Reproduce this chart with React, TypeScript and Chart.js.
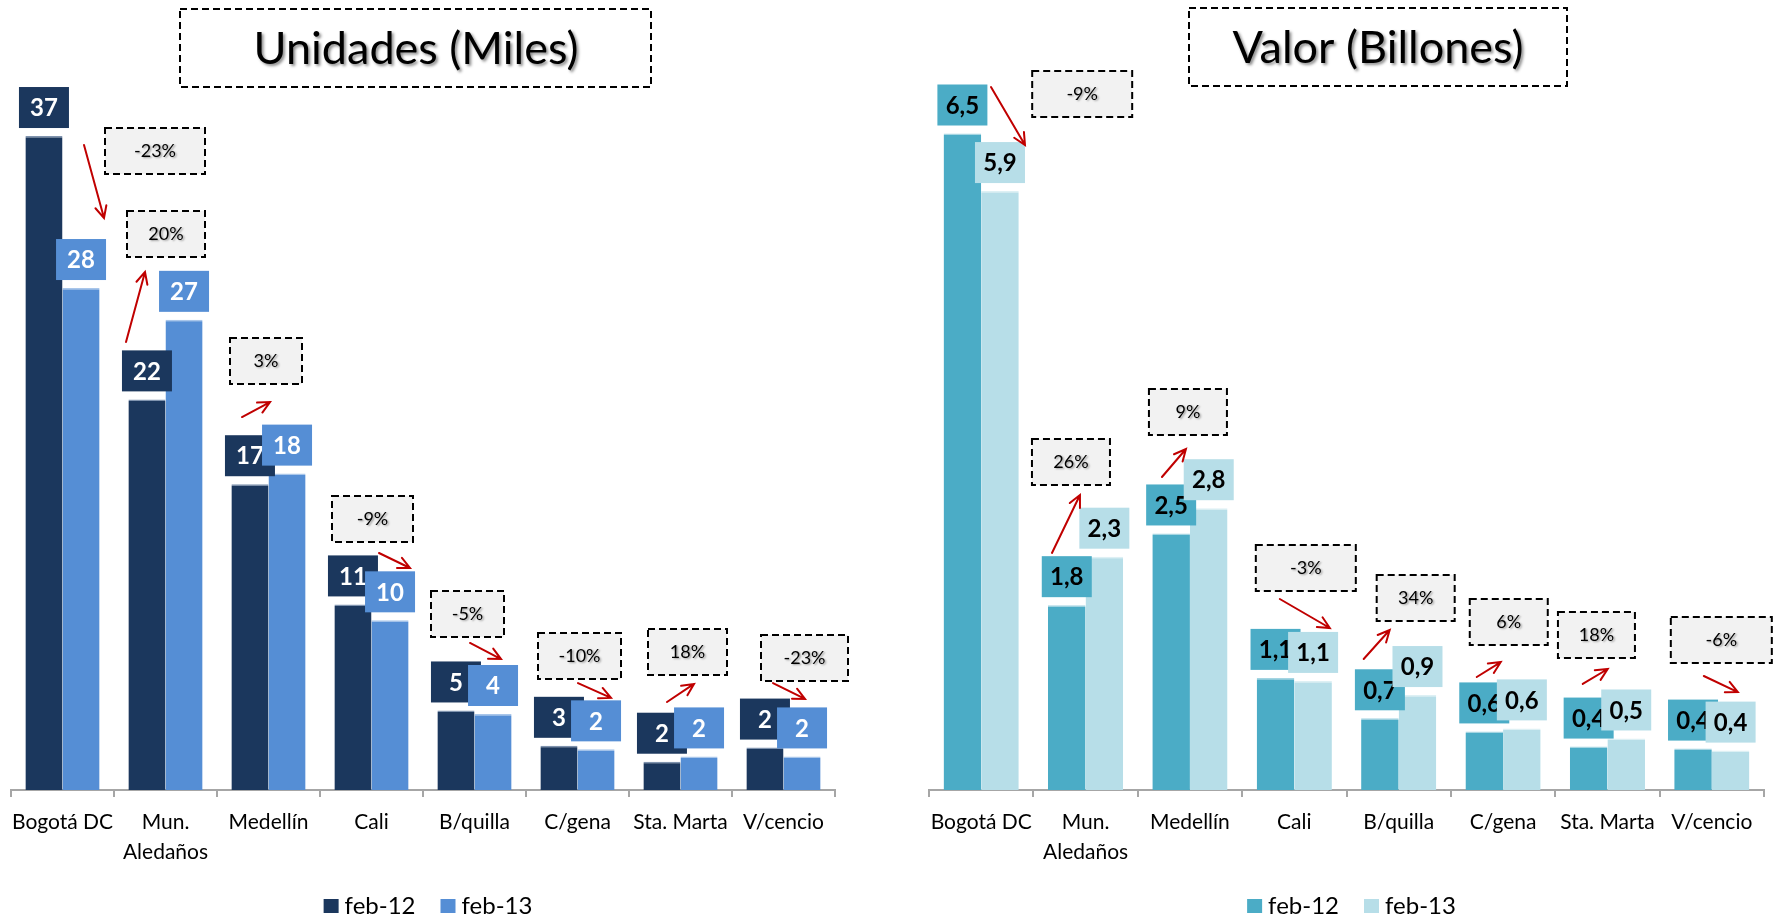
import React, { useEffect, useRef } from "react";
import { Chart, registerables } from "chart.js";

Chart.register(...registerables);

// ---------- DATA ----------
const categories: string[][] = [
  ["Bogotá DC"],
  ["Mun.", "Aledaños"],
  ["Medellín"],
  ["Cali"],
  ["B/quilla"],
  ["C/gena"],
  ["Sta. Marta"],
  ["V/cencio"],
];
const seriesNames = ["feb-12", "feb-13"];

const unidadesFeb12 = [37.0, 22.1, 17.3, 10.5, 4.5, 2.5, 1.6, 2.4];
const unidadesFeb13 = [28.4, 26.6, 17.9, 9.6, 4.3, 2.3, 1.9, 1.9];
const unidadesChange = ["-23%", "20%", "3%", "-9%", "-5%", "-10%", "18%", "-23%"];

const valorFeb12 = [6.5, 1.83, 2.54, 1.11, 0.71, 0.58, 0.43, 0.41];
const valorFeb13 = [5.93, 2.31, 2.79, 1.08, 0.94, 0.61, 0.51, 0.39];
const valorChange = ["-9%", "26%", "9%", "-3%", "34%", "6%", "18%", "-6%"];

// ---------- LAYOUT (annotation placement, not data) ----------
// percent box: [dx from category centre (px), top (in axis units), width px]
const unidadesBoxLayout = [
  [92.5, 37.45, 100], [0.5, 32.76, 78], [-2.5, 25.57, 72], [1, 16.63, 81],
  [-7, 11.26, 73], [2, 8.88, 83], [7, 9.11, 79], [21, 8.77, 87],
];
// arrow: [dx0, v0, dx1, v1]
const unidadesArrowLayout = [
  [21.5, 36.49, 41.5, 32.36], [-39.5, 25.35, -20.5, 29.31], [-26.5, 21.1, 1.5, 21.95],
  [7.5, 13.41, 38.5, 12.56], [-4.5, 8.32, 26.5, 7.41], [0.5, 6.05, 33.5, 5.21],
  [-13.5, 4.98, 13.5, 6.0], [-10.5, 6.05, 21.5, 5.15],
];
const valorBoxLayout = [
  [101, 7.12, 100], [-14.6, 3.475, 78], [-2, 3.97, 78], [11.5, 2.426, 100],
  [17, 2.129, 78], [5.7, 1.891, 78], [-11, 1.762, 77], [9.5, 1.713, 101],
];
const valorArrowLayout = [
  [9.8, 6.96, 43.8, 6.386], [-33.6, 2.347, -5.6, 2.921], [-28, 3.099, -4, 3.376],
  [-14.5, 1.891, 35.5, 1.604], [-35, 1.297, -9, 1.584], [-26.3, 1.119, -2.3, 1.267],
  [-24.7, 1.05, 0.3, 1.198], [-8, 1.129, 26, 0.97],
];

const FONT = "Lato, 'DejaVu Sans', sans-serif";
const ARROW_RED = "#C00000";

type SideCfg = {
  title: string;
  titleBox: [number, number, number, number];
  titleTextX: number;
  feb12: number[];
  feb13: number[];
  change: string[];
  colors: [string, string];
  topColors: [string, string];
  labelTextColor: string;
  fmt: (v: number) => string;
  yMax: number;
  boxLayout: number[][];
  arrowLayout: number[][];
  width: number;
  padLeft: number;
  padRight: number;
};

function dashedRect(ctx: CanvasRenderingContext2D, x: number, y: number, w: number, h: number, fill?: string) {
  ctx.save();
  if (fill) {
    ctx.fillStyle = fill;
    ctx.fillRect(x, y, w, h);
  }
  ctx.setLineDash([7, 4]);
  ctx.lineWidth = 2;
  ctx.strokeStyle = "#000";
  ctx.strokeRect(x, y, w, h);
  ctx.restore();
}

function drawArrow(ctx: CanvasRenderingContext2D, x0: number, y0: number, x1: number, y1: number) {
  ctx.save();
  ctx.strokeStyle = ARROW_RED;
  ctx.lineWidth = 2;
  ctx.lineCap = "round";
  ctx.lineJoin = "miter";
  ctx.beginPath();
  ctx.moveTo(x0, y0);
  ctx.lineTo(x1, y1);
  const a = Math.atan2(y1 - y0, x1 - x0);
  const len = 13;
  const sp = 0.45;
  ctx.moveTo(x1 - len * Math.cos(a - sp), y1 - len * Math.sin(a - sp));
  ctx.lineTo(x1, y1);
  ctx.lineTo(x1 - len * Math.cos(a + sp), y1 - len * Math.sin(a + sp));
  ctx.stroke();
  ctx.restore();
}

function makePlugin(cfg: SideCfg) {
  return {
    id: "decor",
    afterDatasetsDraw(chart: any) {
      const ctx: CanvasRenderingContext2D = chart.ctx;
      // value label boxes: feb-12 first, then feb-13 on top
      [0, 1].forEach((di) => {
        const meta = chart.getDatasetMeta(di);
        const vals = di === 0 ? cfg.feb12 : cfg.feb13;
        meta.data.forEach((bar: any, i: number) => {
          const w = 50;
          const h = 41;
          const x = bar.x - w / 2;
          const y = bar.y - 8 - h;
          ctx.save();
          ctx.fillStyle = cfg.colors[di];
          ctx.fillRect(x, y, w, h);
          ctx.fillStyle = cfg.labelTextColor;
          ctx.font = `bold 24px ${FONT}`;
          ctx.textAlign = "center";
          ctx.textBaseline = "middle";
          ctx.fillText(cfg.fmt(vals[i]), bar.x, y + h / 2 + 1);
          ctx.restore();
        });
      });
    },
    afterDraw(chart: any) {
      const ctx: CanvasRenderingContext2D = chart.ctx;
      const xs = chart.scales.x;
      const ys = chart.scales.y;
      const area = chart.chartArea;

      // title
      const [tx, ty, tw, th] = cfg.titleBox;
      dashedRect(ctx, tx, ty, tw, th);
      ctx.save();
      ctx.font = `45px ${FONT}`;
      ctx.textAlign = "center";
      ctx.textBaseline = "middle";
      ctx.shadowColor = "rgba(0,0,0,0.45)";
      ctx.shadowOffsetX = 2;
      ctx.shadowOffsetY = 2;
      ctx.shadowBlur = 3;
      ctx.fillStyle = "#000";
      ctx.fillText(cfg.title, cfg.titleTextX, ty + th / 2 + 1);
      ctx.restore();

      // percent boxes
      cfg.change.forEach((txt, i) => {
        const [dx, topVal, w] = cfg.boxLayout[i];
        const cx = xs.getPixelForValue(i) + dx;
        const top = ys.getPixelForValue(topVal);
        const h = 46;
        dashedRect(ctx, cx - w / 2, top, w, h, "#F2F2F2");
        ctx.save();
        ctx.font = `18px ${FONT}`;
        ctx.textAlign = "center";
        ctx.textBaseline = "middle";
        ctx.shadowColor = "rgba(0,0,0,0.35)";
        ctx.shadowOffsetX = 1.5;
        ctx.shadowOffsetY = 1.5;
        ctx.shadowBlur = 2;
        ctx.fillStyle = "#000";
        ctx.fillText(txt, cx, top + h / 2);
        ctx.restore();
      });

      // arrows
      cfg.arrowLayout.forEach((a, i) => {
        const c = xs.getPixelForValue(i);
        drawArrow(ctx, c + a[0], ys.getPixelForValue(a[1]), c + a[2], ys.getPixelForValue(a[3]));
      });

      // legend
      ctx.save();
      ctx.font = `24px ${FONT}`;
      ctx.textBaseline = "middle";
      ctx.textAlign = "left";
      const sq = 15;
      const gap = 6;
      const itemGap = 25;
      const w1 = ctx.measureText(seriesNames[0]).width;
      const w2 = ctx.measureText(seriesNames[1]).width;
      const total = sq + gap + w1 + itemGap + sq + gap + w2;
      let lx = (area.left + area.right) / 2 + 5 - total / 2;
      const ly = 906;
      [w1, w2].forEach((tw2, k) => {
        ctx.fillStyle = cfg.colors[k];
        ctx.fillRect(lx, 899, sq, 14);
        ctx.fillStyle = "#000";
        ctx.fillText(seriesNames[k], lx + sq + gap, ly);
        lx += sq + gap + tw2 + itemGap;
      });
      ctx.restore();
    },
  };
}

function ChartPanel({ cfg, left }: { cfg: SideCfg; left: number }) {
  const ref = useRef<HTMLCanvasElement | null>(null);
  useEffect(() => {
    if (!ref.current) return;
    const chart = new Chart(ref.current, {
      type: "bar",
      data: {
        labels: categories,
        datasets: [
          {
            label: seriesNames[0],
            data: cfg.feb12,
            backgroundColor: cfg.colors[0],
            borderColor: cfg.topColors[0],
            borderWidth: { top: 1.5, left: 0, right: 0, bottom: 0 },
            borderSkipped: "bottom",
          },
          {
            label: seriesNames[1],
            data: cfg.feb13,
            backgroundColor: cfg.colors[1],
            borderColor: cfg.topColors[1],
            borderWidth: { top: 1.5, left: 0, right: 0, bottom: 0 },
            borderSkipped: "bottom",
          },
        ],
      },
      options: {
        responsive: false,
        animation: false,
        devicePixelRatio: 1,
        datasets: { bar: { categoryPercentage: 0.72, barPercentage: 1.0 } },
        layout: { padding: { left: cfg.padLeft, right: cfg.padRight, top: 83, bottom: 0 } },
        plugins: { legend: { display: false }, tooltip: { enabled: false }, title: { display: false } },
        scales: {
          x: {
            grid: {
              display: true,
              drawOnChartArea: false,
              drawTicks: true,
              tickLength: 7,
              color: "#A6A6A6",
              lineWidth: 2,
              offset: true,
            },
            border: { display: true, color: "#A6A6A6", width: 2 },
            ticks: {
              color: "#000",
              font: { size: 21, family: FONT, lineHeight: 1.43 },
              padding: 10,
              maxRotation: 0,
              minRotation: 0,
              autoSkip: false,
            },
            afterFit: (s: any) => {
              s.height = 129;
            },
          },
          y: { display: false, min: 0, max: cfg.yMax },
        },
      },
      plugins: [makePlugin(cfg)],
    } as any);
    return () => chart.destroy();
  }, [cfg]);
  return (
    <canvas
      ref={ref}
      width={cfg.width}
      height={919}
      style={{ position: "absolute", left, top: 0, width: cfg.width, height: 919 }}
    />
  );
}

const leftCfg: SideCfg = {
  title: "Unidades (Miles)",
  titleBox: [180, 9, 471, 78],
  titleTextX: 416,
  feb12: unidadesFeb12,
  feb13: unidadesFeb13,
  change: unidadesChange,
  colors: ["#1B375D", "#558ED5"],
  topColors: ["#7F93AE", "#A9C6EA"],
  labelTextColor: "#FFFFFF",
  fmt: (v) => String(Math.round(v)),
  yMax: 40,
  boxLayout: unidadesBoxLayout,
  arrowLayout: unidadesArrowLayout,
  width: 885,
  padLeft: 11,
  padRight: 50,
};

const rightCfg: SideCfg = {
  title: "Valor (Billones)",
  titleBox: [304, 8, 378, 78],
  titleTextX: 493,
  feb12: valorFeb12,
  feb13: valorFeb13,
  change: valorChange,
  colors: ["#4BACC6", "#B7DEE8"],
  topColors: ["#A5D5E2", "#DDF0F4"],
  labelTextColor: "#000000",
  fmt: (v) => v.toFixed(1).replace(".", ","),
  yMax: 7,
  boxLayout: valorBoxLayout,
  arrowLayout: valorArrowLayout,
  width: 896,
  padLeft: 44,
  padRight: 17,
};

export default function App() {
  return (
    <div style={{ position: "absolute", left: 0, top: 0, width: 1781, height: 919, background: "#fff", overflow: "hidden" }}>
      <ChartPanel cfg={leftCfg} left={0} />
      <ChartPanel cfg={rightCfg} left={885} />
    </div>
  );
}
